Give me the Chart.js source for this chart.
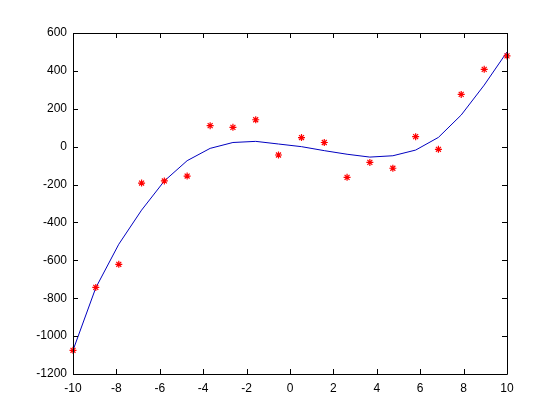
<!DOCTYPE html>
<html>
<head>
<meta charset="utf-8">
<script src="https://cdn.jsdelivr.net/npm/chart.js@4/dist/chart.umd.min.js"></script>
<style>
  html, body { margin: 0; padding: 0; background: #fff; }
  #wrap { width: 560px; height: 420px; }
</style>
</head>
<body>
<div id="wrap"><canvas id="fitChart"></canvas></div>
<script>
  // sample x positions (20 points from -10 to 10)
  const xValues = [-10, -8.95, -7.89, -6.84, -5.79, -4.74, -3.68, -2.63, -1.58, -0.53,
                   0.53, 1.58, 2.63, 3.68, 4.74, 5.79, 6.84, 7.89, 8.95, 10];
  // measured samples (red stars)
  const sampleValues = [-1075, -743, -621, -192, -181, -155, 111, 102, 142, -44,
                        48, 22, -162, -83, -114, 53, -14, 276, 408, 479];
  // fitted curve (blue line) at the same x
  const fitValues = [-1075, -745, -515, -335, -181, -74, -9, 22, 28, 14,
                     0, -21, -40, -55, -48, -18, 49, 167, 325, 500];

  const xTicks = [-10, -8, -6, -4, -2, 0, 2, 4, 6, 8, 10];
  const yTicks = [-1200, -1000, -800, -600, -400, -200, 0, 200, 400, 600];

  const toPoints = (ys) => xValues.map((x, i) => ({ x: x, y: ys[i] }));

  // box around the axes with ticks pointing inward on all four sides
  const boxTicks = {
    id: 'boxTicks',
    afterDraw(chart) {
      const { ctx, chartArea: a, scales } = chart;
      const len = 5;
      ctx.save();
      ctx.strokeStyle = '#000';
      ctx.lineWidth = 1;
      ctx.beginPath();
      ctx.rect(Math.round(a.left) + 0.5, Math.round(a.top) + 0.5,
               Math.round(a.right - a.left), Math.round(a.bottom - a.top));
      xTicks.forEach(v => {
        const px = Math.round(scales.x.getPixelForValue(v)) + 0.5;
        ctx.moveTo(px, a.bottom); ctx.lineTo(px, a.bottom - len);
        ctx.moveTo(px, a.top); ctx.lineTo(px, a.top + len);
      });
      yTicks.forEach(v => {
        const py = Math.round(scales.y.getPixelForValue(v)) + 0.5;
        ctx.moveTo(a.left, py); ctx.lineTo(a.left + len, py);
        ctx.moveTo(a.right, py); ctx.lineTo(a.right - len, py);
      });
      ctx.stroke();
      ctx.restore();
    }
  };

  Chart.defaults.font.family = '"Liberation Sans", Arial, sans-serif';
  Chart.defaults.font.size = 12;
  Chart.defaults.color = '#000';

  new Chart(document.getElementById('fitChart'), {
    type: 'scatter',
    data: {
      datasets: [
        {
          label: 'data',
          data: toPoints(sampleValues),
          pointStyle: 'star',
          pointRadius: 3.5,
          pointBorderWidth: 1.2,
          borderColor: '#ff0000',
          backgroundColor: '#ff0000',
          clip: false,
          order: 0
        },
        {
          label: 'fit',
          data: toPoints(fitValues),
          showLine: true,
          pointRadius: 0,
          borderColor: '#0000c0',
          borderWidth: 1,
          tension: 0,
          order: 1
        }
      ]
    },
    options: {
      responsive: true,
      maintainAspectRatio: false,
      animation: false,
      layout: { padding: { top: 33, right: 53, left: 0, bottom: 0 } },
      plugins: { legend: { display: false }, tooltip: { enabled: false } },
      scales: {
        x: {
          type: 'linear',
          min: -10, max: 10,
          afterBuildTicks: s => { s.ticks = xTicks.map(v => ({ value: v })); },
          afterFit: s => { s.height = 46; },
          grid: { display: false, drawTicks: false },
          border: { display: false },
          ticks: { padding: 7, maxRotation: 0, callback: v => String(v) }
        },
        y: {
          type: 'linear',
          min: -1200, max: 600,
          afterBuildTicks: s => { s.ticks = yTicks.map(v => ({ value: v })); },
          afterFit: s => { s.width = 73; },
          grid: { display: false, drawTicks: false },
          border: { display: false },
          ticks: { padding: 6, callback: v => String(v) }
        }
      }
    },
    plugins: [boxTicks]
  });
</script>
</body>
</html>
